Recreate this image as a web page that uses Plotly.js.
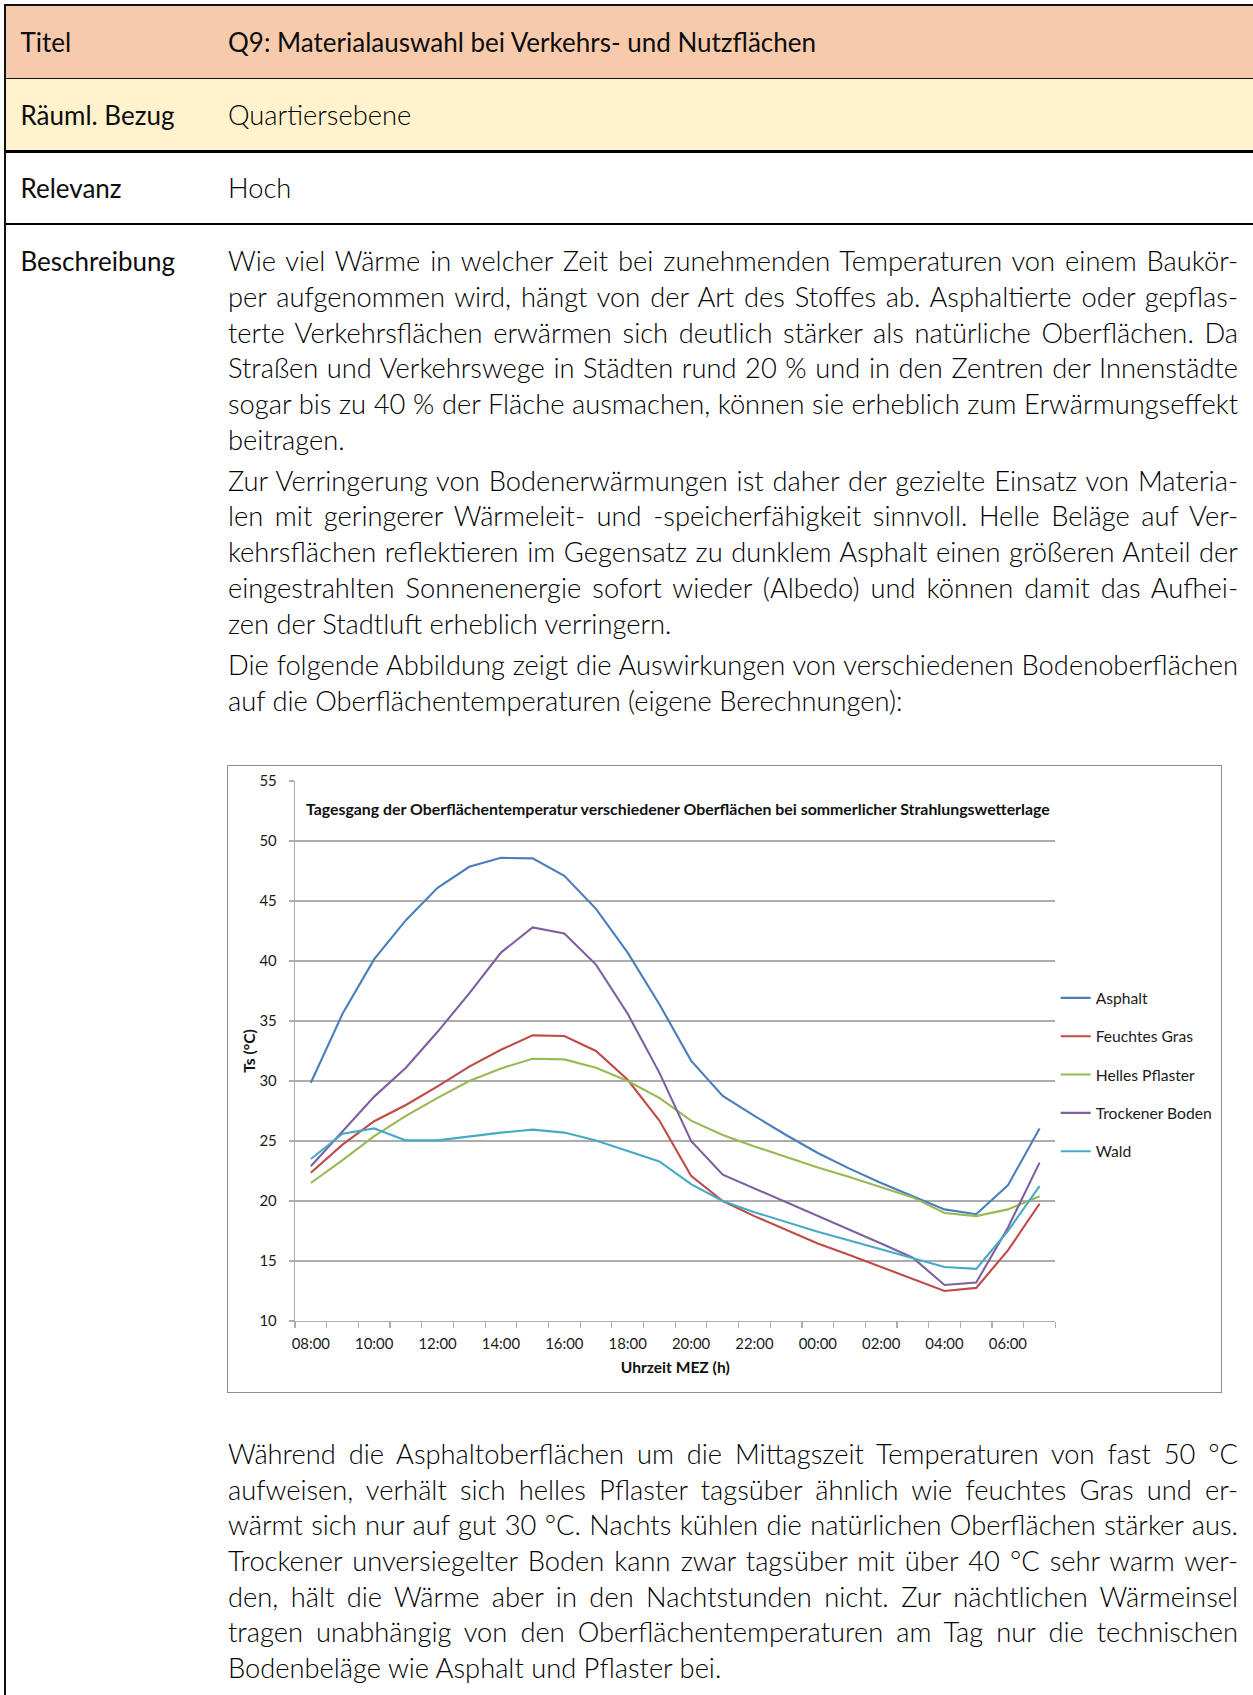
<!DOCTYPE html>
<html lang="de">
<head>
<meta charset="utf-8">
<title>Q9: Materialauswahl bei Verkehrs- und Nutzflächen</title>
<script src="https://cdn.plot.ly/plotly-3.0.1.min.js"></script>
<style>
html, body { margin:0; padding:0; background:#fff; }
body { position:relative; width:1253px; height:1695px; overflow:hidden; }
.bar { position:absolute; }
.ln { position:absolute; top:0; line-height:normal; }
.lt { font-family: Lato, 'Open Sans', sans-serif; font-weight:300; color:#000; }
.rg { font-family: Lato, 'Open Sans', sans-serif; font-weight:400; color:#0d0d0d; }
#chartbox { position:absolute; left:227px; top:765px; width:993px; height:626px; border:1.3px solid #8e8e8e; }
#chart { width:993px; height:626px; }
</style>
</head>
<body>
<!-- table backgrounds and rules -->
<div class="bar" style="left:6px;right:0;top:5.5px;height:72.5px;background:#F7CAAC"></div>
<div class="bar" style="left:6px;right:0;top:79px;height:71.5px;background:#FFF2CC"></div>
<div class="bar" style="left:4.3px;right:0;top:4.3px;height:1.6px;background:#111"></div>
<div class="bar" style="left:4.3px;right:0;top:77.6px;height:1.5px;background:#111"></div>
<div class="bar" style="left:4.3px;right:0;top:150.4px;height:2.6px;background:#000"></div>
<div class="bar" style="left:4.3px;right:0;top:222.8px;height:2.6px;background:#000"></div>
<div class="bar" style="left:4.3px;width:2px;top:4.3px;bottom:0;background:#111"></div>

<div id="chartbox"><div id="chart"></div></div>

<script>
// ---------------- chart data ----------------
const hours = ["08:00","09:00","10:00","11:00","12:00","13:00","14:00","15:00","16:00","17:00","18:00","19:00",
               "20:00","21:00","22:00","23:00","00:00","01:00","02:00","03:00","04:00","05:00","06:00","07:00"];
const asphalt        = [29.85,35.6,40.15,43.4,46.1,47.85,48.6,48.55,47.1,44.35,40.7,36.4,31.7,28.75,27.1,25.5,24.0,22.7,21.5,20.4,19.3,18.9,21.3,26.05];
const feuchtesGras   = [22.35,24.7,26.65,28.0,29.55,31.2,32.6,33.8,33.75,32.5,30.1,26.7,22.1,20.0,18.74,17.57,16.46,15.5,14.5,13.5,12.5,12.76,15.88,19.77];
const hellesPflaster = [21.5,23.4,25.4,27.1,28.6,30.0,31.05,31.85,31.8,31.1,30.0,28.6,26.7,25.5,24.55,23.66,22.8,22.0,21.16,20.3,19.0,18.74,19.3,20.4];
const trockenerBoden = [22.9,25.8,28.7,31.1,34.1,37.3,40.7,42.8,42.3,39.7,35.6,30.7,25.0,22.2,21.05,19.94,18.8,17.63,16.46,15.27,13.0,13.2,17.77,23.2];
const wald           = [23.5,25.6,26.05,25.05,25.05,25.4,25.7,25.95,25.7,25.05,24.2,23.3,21.4,20.0,19.07,18.27,17.43,16.7,15.96,15.2,14.5,14.35,17.5,21.24];
const seriesNames  = ["Asphalt","Feuchtes Gras","Helles Pflaster","Trockener Boden","Wald"];
const seriesValues = [asphalt, feuchtesGras, hellesPflaster, trockenerBoden, wald];
const seriesColors = ["#4A7EBB","#BE4B48","#98B954","#7D60A0","#46AAC5"];
const yTicks = [10,15,20,25,30,35,40,45,50,55];
const chartTitle = "Tagesgang der Oberflächentemperatur verschiedener Oberflächen bei sommerlicher Strahlungswetterlage";
const xTitle = "Uhrzeit MEZ (h)";
const yTitle = "Ts (°C)";

// ---------------- document text ----------------
const labelRows = [
  ["Titel", "Q9: Materialauswahl bei Verkehrs- und Nutzflächen", "rg", 52],
  ["Räuml. Bezug", "Quartiersebene", "lt", 125],
  ["Relevanz", "Hoch", "lt", 198.3],
  ["Beschreibung", null, null, 271]
];
const bodyLines = [
  ["Wie viel Wärme in welcher Zeit bei zunehmenden Temperaturen von einem Baukör-", 271, true],
  ["per aufgenommen wird, hängt von der Art des Stoffes ab. Asphaltierte oder gepflas-", 306.8, true],
  ["terte Verkehrsflächen erwärmen sich deutlich stärker als natürliche Oberflächen. Da", 342.6, true],
  ["Straßen und Verkehrswege in Städten rund 20 % und in den Zentren der Innenstädte", 378.4, true],
  ["sogar bis zu 40 % der Fläche ausmachen, können sie erheblich zum Erwärmungseffekt", 414.2, true],
  ["beitragen.", 450, false],
  ["Zur Verringerung von Bodenerwärmungen ist daher der gezielte Einsatz von Materia-", 490.5, true],
  ["len mit geringerer Wärmeleit- und -speicherfähigkeit sinnvoll. Helle Beläge auf Ver-", 526.3, true],
  ["kehrsflächen reflektieren im Gegensatz zu dunklem Asphalt einen größeren Anteil der", 562.1, true],
  ["eingestrahlten Sonnenenergie sofort wieder (Albedo) und können damit das Aufhei-", 597.9, true],
  ["zen der Stadtluft erheblich verringern.", 633.7, false],
  ["Die folgende Abbildung zeigt die Auswirkungen von verschiedenen Bodenoberflächen", 675.3, true],
  ["auf die Oberflächentemperaturen (eigene Berechnungen):", 711.1, false],
  ["Während die Asphaltoberflächen um die Mittagszeit Temperaturen von fast 50 °C", 1463.5, true],
  ["aufweisen, verhält sich helles Pflaster tagsüber ähnlich wie feuchtes Gras und er-", 1499.5, true],
  ["wärmt sich nur auf gut 30 °C. Nachts kühlen die natürlichen Oberflächen stärker aus.", 1535.2, true],
  ["Trockener unversiegelter Boden kann zwar tagsüber mit über 40 °C sehr warm wer-", 1570.9, true],
  ["den, hält die Wärme aber in den Nachtstunden nicht. Zur nächtlichen Wärmeinsel", 1606.6, true],
  ["tragen unabhängig von den Oberflächentemperaturen am Tag nur die technischen", 1642.3, true],
  ["Bodenbeläge wie Asphalt und Pflaster bei.", 1678, false]
];

const TEXT_LEFT = 228, TEXT_W = 1010, LABEL_LEFT = 20.5;

function measure(text, cls, size, weight, family) {
  const s = document.createElement('span');
  if (cls) s.className = cls;
  s.style.fontSize = size + 'px';
  if (weight) s.style.fontWeight = weight;
  if (family) s.style.fontFamily = family;
  s.style.whiteSpace = 'nowrap';
  s.style.position = 'absolute';
  s.style.visibility = 'hidden';
  s.textContent = text;
  document.body.appendChild(s);
  const w = s.getBoundingClientRect().width;
  s.remove();
  return w;
}
function calib(pairs, cls, weight, family) {
  let r = 0;
  pairs.forEach(p => { r += p[1] / measure(p[0], cls, 100, weight, family); });
  return 100 * r / pairs.length;
}

const lightSize = calib([["beitragen.",119],["zen der Stadtluft erheblich verringern.",448],
  ["auf die Oberflächentemperaturen (eigene Berechnungen):",688],["Bodenbeläge wie Asphalt und Pflaster bei.",494],
  ["Quartiersebene",184],["Hoch",60]], 'lt');
const regSize = calib([["Q9: Materialauswahl bei Verkehrs- und Nutzflächen",597],["Räuml. Bezug",155],
  ["Relevanz",101],["Beschreibung",155.7],["Titel",49.3]], 'rg');

function place(text, left, baseline, cls, size, justifyW) {
  const d = document.createElement('div');
  d.className = 'ln ' + cls;
  d.style.fontSize = size + 'px';
  d.style.left = left + 'px';
  if (justifyW) {
    const nat = measure(text, cls, size);
    if (nat > justifyW - 2) {
      d.style.letterSpacing = ((justifyW - 3 - nat) / text.length) + 'px';
    }
    d.style.width = justifyW + 'px';
    d.style.textAlign = 'justify';
    d.style.textAlignLast = 'justify';
  } else {
    d.style.whiteSpace = 'nowrap';
  }
  d.appendChild(document.createTextNode(text));
  const m = document.createElement('span');
  m.style.display = 'inline-block'; m.style.width = '0'; m.style.height = '0'; m.style.verticalAlign = 'baseline';
  d.appendChild(m);
  document.body.appendChild(d);
  const off = m.offsetTop;
  d.style.top = (baseline - off) + 'px';
}

labelRows.forEach(r => {
  place(r[0], LABEL_LEFT, r[3], 'rg', regSize, 0);
  if (r[1]) place(r[1], TEXT_LEFT, r[3], r[2], r[2] === 'rg' ? regSize : lightSize, 0);
});
bodyLines.forEach(l => place(l[0], TEXT_LEFT, l[1], 'lt', lightSize, l[2] ? TEXT_W : 0));

// ---------------- chart ----------------
const FONT = 'Lato, "Open Sans", sans-serif';
const W = 993, H = 626;
const titleSize = 744 / measure(chartTitle, null, 100, 700, FONT) * 100;
const tickSize  = 38.3 / measure("08:00", null, 100, 400, FONT) * 100;
const legSize   = (96.5 / measure("Feuchtes Gras", null, 100, 400, FONT) + 117 / measure("Trockener Boden", null, 100, 400, FONT)) * 50;
const axTitleSize = 109 / measure(xTitle, null, 100, 700, FONT) * 100;

const xIdx = hours.map((h, i) => i);
const evenIdx = xIdx.filter(i => i % 2 === 0);
const gridCol = '#ADADAD';

const traces = seriesNames.map((name, k) => ({
  type: 'scatter', mode: 'lines', name: name,
  x: xIdx, y: seriesValues[k],
  line: { color: seriesColors[k], width: 2.1 },
  legendgroup: 'g' + k,
  hoverinfo: 'x+y+name'
}));

const layout = {
  width: W, height: H,
  margin: { l: 67.2, r: 164.7, t: 15.4, b: 70.6, pad: 0 },
  paper_bgcolor: '#fff', plot_bgcolor: '#fff',
  font: { family: FONT, size: tickSize, color: '#1a1a1a' },
  title: {
    text: chartTitle,
    font: { family: FONT, size: titleSize, weight: 700, color: '#111' },
    x: 0.5035, xref: 'paper', xanchor: 'center',
    y: 1 - 43 / H, yref: 'container', yanchor: 'middle'
  },
  xaxis: {
    range: [-0.5, hours.length - 0.5],
    tickmode: 'array', tickvals: evenIdx, ticktext: evenIdx.map(i => hours[i]),
    ticks: '', showgrid: false, zeroline: false,
    showline: true, linecolor: gridCol, linewidth: 1.3,
    tickfont: { size: tickSize, color: '#1a1a1a' },
    ticklabelstandoff: 9,
    minor: { ticks: 'outside', ticklen: 6, tickwidth: 1.2, tickcolor: gridCol, tickmode: 'linear', tick0: -0.5, dtick: 1, showgrid: false },
    title: { text: xTitle, font: { size: axTitleSize, weight: 700, color: '#111' }, standoff: 11 }
  },
  yaxis: {
    range: [yTicks[0], yTicks[yTicks.length - 1]],
    tickmode: 'array', tickvals: yTicks,
    ticks: 'outside', ticklen: 5, tickwidth: 1.2, tickcolor: gridCol,
    showgrid: true, gridcolor: gridCol, gridwidth: 1.3, zeroline: false,
    showline: true, linecolor: gridCol, linewidth: 1.3,
    tickfont: { size: tickSize, color: '#1a1a1a' },
    ticklabelstandoff: 9,
    title: { text: yTitle, font: { size: axTitleSize, weight: 700, color: '#111' }, standoff: 0 }
  },
  showlegend: true,
  legend: {
    orientation: 'v',
    xref: 'container', x: 827.7 / W, xanchor: 'left',
    yref: 'container', y: 1 - 308.7 / H, yanchor: 'middle',
    font: { family: FONT, size: legSize, color: '#1a1a1a' },
    tracegroupgap: 15, bgcolor: 'rgba(0,0,0,0)', borderwidth: 0,
    traceorder: 'grouped'
  }
};

Plotly.newPlot('chart', traces, layout, { displayModeBar: false, staticPlot: true });
</script>
</body>
</html>
